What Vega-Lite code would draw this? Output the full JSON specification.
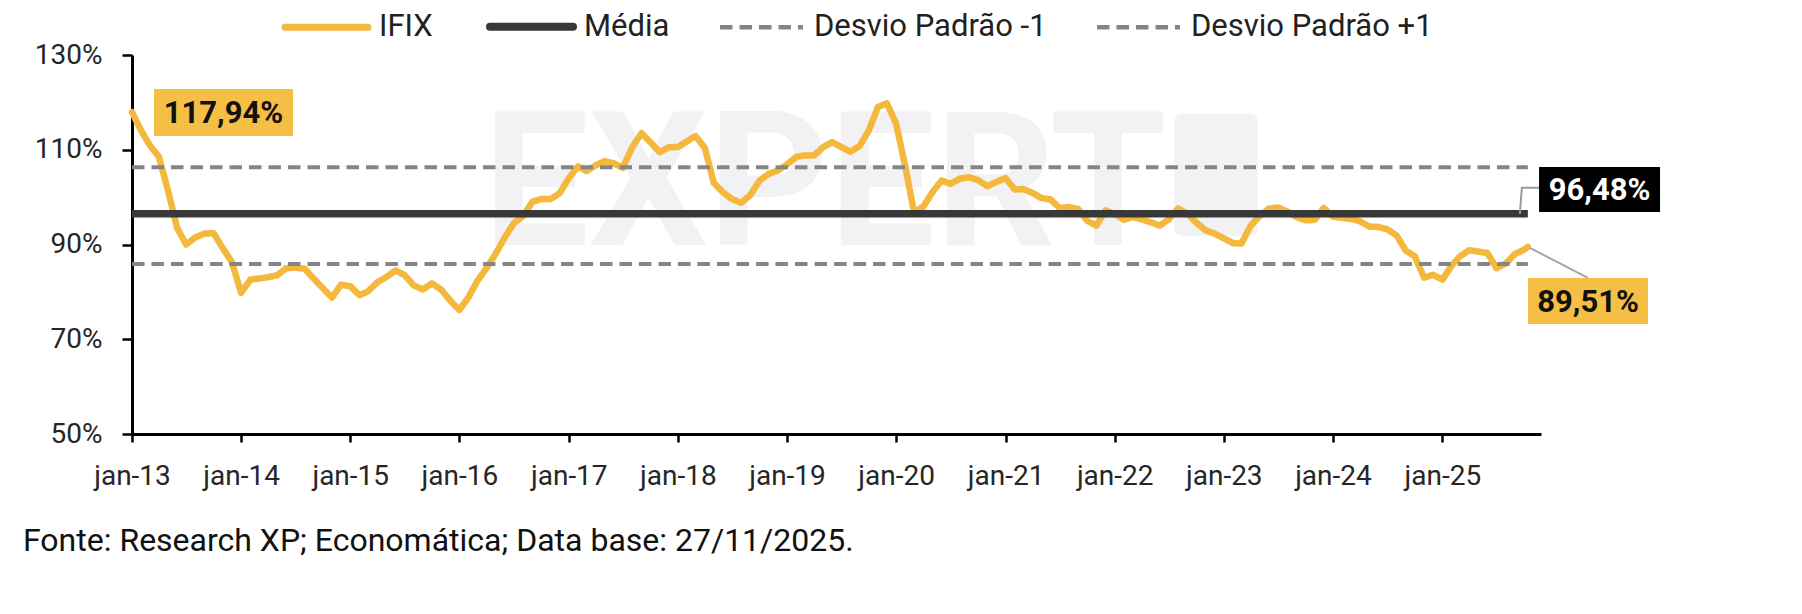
{
  "$schema": "https://vega.github.io/schema/vega-lite/v6.json",
  "width": 1409,
  "height": 379,
  "autosize": {"type": "none"},
  "padding": {"left": 132, "top": 55, "right": 261, "bottom": 180},
  "background": "#ffffff",
  "config": {
    "font": "Roboto",
    "view": {"stroke": null},
    "axis": {
      "domainColor": "#000000",
      "domainWidth": 3,
      "tickColor": "#000000",
      "tickWidth": 2.5,
      "labelFont": "Roboto",
      "labelFontSize": 28,
      "labelColor": "#262626",
      "grid": false,
      "zindex": 1,
      "labelFlush": false,
      "labelOverlap": false
    },
    "legend": {
      "orient": "none",
      "legendX": 179,
      "legendY": -44,
      "direction": "horizontal",
      "padding": 0,
      "symbolType": "stroke",
      "symbolSize": 6889,
      "labelFont": "Roboto",
      "labelFontSize": 31,
      "labelColor": "#222222",
      "labelOffset": 37,
      "labelLimit": 500,
      "columnPadding": 41
    }
  },
  "title": {
    "text": "Fonte: Research XP; Economática; Data base: 27/11/2025.",
    "orient": "bottom",
    "anchor": "start",
    "frame": "group",
    "dx": -109,
    "offset": 36,
    "font": "Roboto",
    "fontSize": 32,
    "fontWeight": "normal",
    "color": "#111111"
  },
  "datasets": {
    "ifix": [
      {"s": "IFIX", "d": "2013-01-01", "v": 117.94}, {"s": "IFIX", "d": "2013-02-01", "v": 114.0}, {"s": "IFIX", "d": "2013-03-01", "v": 111.0}, {"s": "IFIX", "d": "2013-04-01", "v": 108.5},
      {"s": "IFIX", "d": "2013-05-01", "v": 101.5}, {"s": "IFIX", "d": "2013-06-01", "v": 93.5}, {"s": "IFIX", "d": "2013-07-01", "v": 90.0}, {"s": "IFIX", "d": "2013-08-01", "v": 91.5},
      {"s": "IFIX", "d": "2013-09-01", "v": 92.3}, {"s": "IFIX", "d": "2013-10-01", "v": 92.4}, {"s": "IFIX", "d": "2013-11-01", "v": 89.2}, {"s": "IFIX", "d": "2013-12-01", "v": 86.3},
      {"s": "IFIX", "d": "2014-01-01", "v": 79.8}, {"s": "IFIX", "d": "2014-02-01", "v": 82.6}, {"s": "IFIX", "d": "2014-03-01", "v": 82.8}, {"s": "IFIX", "d": "2014-04-01", "v": 83.1},
      {"s": "IFIX", "d": "2014-05-01", "v": 83.5}, {"s": "IFIX", "d": "2014-06-01", "v": 85.0}, {"s": "IFIX", "d": "2014-07-01", "v": 85.1}, {"s": "IFIX", "d": "2014-08-01", "v": 84.9},
      {"s": "IFIX", "d": "2014-09-01", "v": 82.8}, {"s": "IFIX", "d": "2014-10-01", "v": 80.8}, {"s": "IFIX", "d": "2014-11-01", "v": 78.8}, {"s": "IFIX", "d": "2014-12-01", "v": 81.5},
      {"s": "IFIX", "d": "2015-01-01", "v": 81.2}, {"s": "IFIX", "d": "2015-02-01", "v": 79.3}, {"s": "IFIX", "d": "2015-03-01", "v": 80.1}, {"s": "IFIX", "d": "2015-04-01", "v": 82.0},
      {"s": "IFIX", "d": "2015-05-01", "v": 83.1}, {"s": "IFIX", "d": "2015-06-01", "v": 84.5}, {"s": "IFIX", "d": "2015-07-01", "v": 83.6}, {"s": "IFIX", "d": "2015-08-01", "v": 81.4},
      {"s": "IFIX", "d": "2015-09-01", "v": 80.5}, {"s": "IFIX", "d": "2015-10-01", "v": 81.8}, {"s": "IFIX", "d": "2015-11-01", "v": 80.5}, {"s": "IFIX", "d": "2015-12-01", "v": 78.2},
      {"s": "IFIX", "d": "2016-01-01", "v": 76.2}, {"s": "IFIX", "d": "2016-02-01", "v": 78.9}, {"s": "IFIX", "d": "2016-03-01", "v": 82.3}, {"s": "IFIX", "d": "2016-04-01", "v": 85.0},
      {"s": "IFIX", "d": "2016-05-01", "v": 88.0}, {"s": "IFIX", "d": "2016-06-01", "v": 91.5}, {"s": "IFIX", "d": "2016-07-01", "v": 94.5}, {"s": "IFIX", "d": "2016-08-01", "v": 96.0},
      {"s": "IFIX", "d": "2016-09-01", "v": 99.0}, {"s": "IFIX", "d": "2016-10-01", "v": 99.6}, {"s": "IFIX", "d": "2016-11-01", "v": 99.6}, {"s": "IFIX", "d": "2016-12-01", "v": 100.8},
      {"s": "IFIX", "d": "2017-01-01", "v": 104.0}, {"s": "IFIX", "d": "2017-02-01", "v": 106.5}, {"s": "IFIX", "d": "2017-03-01", "v": 105.5}, {"s": "IFIX", "d": "2017-04-01", "v": 106.7},
      {"s": "IFIX", "d": "2017-05-01", "v": 107.6}, {"s": "IFIX", "d": "2017-06-01", "v": 107.1}, {"s": "IFIX", "d": "2017-07-01", "v": 106.2}, {"s": "IFIX", "d": "2017-08-01", "v": 110.5},
      {"s": "IFIX", "d": "2017-09-01", "v": 113.5}, {"s": "IFIX", "d": "2017-10-01", "v": 111.6}, {"s": "IFIX", "d": "2017-11-01", "v": 109.5}, {"s": "IFIX", "d": "2017-12-01", "v": 110.5},
      {"s": "IFIX", "d": "2018-01-01", "v": 110.6}, {"s": "IFIX", "d": "2018-02-01", "v": 111.8}, {"s": "IFIX", "d": "2018-03-01", "v": 112.9}, {"s": "IFIX", "d": "2018-04-01", "v": 110.4},
      {"s": "IFIX", "d": "2018-05-01", "v": 103.0}, {"s": "IFIX", "d": "2018-06-01", "v": 101.0}, {"s": "IFIX", "d": "2018-07-01", "v": 99.6}, {"s": "IFIX", "d": "2018-08-01", "v": 98.8},
      {"s": "IFIX", "d": "2018-09-01", "v": 100.5}, {"s": "IFIX", "d": "2018-10-01", "v": 103.5}, {"s": "IFIX", "d": "2018-11-01", "v": 104.9}, {"s": "IFIX", "d": "2018-12-01", "v": 105.6},
      {"s": "IFIX", "d": "2019-01-01", "v": 106.9}, {"s": "IFIX", "d": "2019-02-01", "v": 108.5}, {"s": "IFIX", "d": "2019-03-01", "v": 108.8}, {"s": "IFIX", "d": "2019-04-01", "v": 108.8},
      {"s": "IFIX", "d": "2019-05-01", "v": 110.5}, {"s": "IFIX", "d": "2019-06-01", "v": 111.6}, {"s": "IFIX", "d": "2019-07-01", "v": 110.6}, {"s": "IFIX", "d": "2019-08-01", "v": 109.6},
      {"s": "IFIX", "d": "2019-09-01", "v": 110.8}, {"s": "IFIX", "d": "2019-10-01", "v": 114.0}, {"s": "IFIX", "d": "2019-11-01", "v": 119.0}, {"s": "IFIX", "d": "2019-12-01", "v": 119.8},
      {"s": "IFIX", "d": "2020-01-01", "v": 115.5}, {"s": "IFIX", "d": "2020-02-01", "v": 106.3}, {"s": "IFIX", "d": "2020-03-01", "v": 96.8}, {"s": "IFIX", "d": "2020-04-01", "v": 98.0},
      {"s": "IFIX", "d": "2020-05-01", "v": 101.0}, {"s": "IFIX", "d": "2020-06-01", "v": 103.5}, {"s": "IFIX", "d": "2020-07-01", "v": 102.8}, {"s": "IFIX", "d": "2020-08-01", "v": 103.9},
      {"s": "IFIX", "d": "2020-09-01", "v": 104.2}, {"s": "IFIX", "d": "2020-10-01", "v": 103.6}, {"s": "IFIX", "d": "2020-11-01", "v": 102.3}, {"s": "IFIX", "d": "2020-12-01", "v": 103.2},
      {"s": "IFIX", "d": "2021-01-01", "v": 104.0}, {"s": "IFIX", "d": "2021-02-01", "v": 101.6}, {"s": "IFIX", "d": "2021-03-01", "v": 101.7}, {"s": "IFIX", "d": "2021-04-01", "v": 100.9},
      {"s": "IFIX", "d": "2021-05-01", "v": 99.8}, {"s": "IFIX", "d": "2021-06-01", "v": 99.5}, {"s": "IFIX", "d": "2021-07-01", "v": 97.7}, {"s": "IFIX", "d": "2021-08-01", "v": 97.9},
      {"s": "IFIX", "d": "2021-09-01", "v": 97.5}, {"s": "IFIX", "d": "2021-10-01", "v": 95.0}, {"s": "IFIX", "d": "2021-11-01", "v": 94.0}, {"s": "IFIX", "d": "2021-12-01", "v": 97.2},
      {"s": "IFIX", "d": "2022-01-01", "v": 96.5}, {"s": "IFIX", "d": "2022-02-01", "v": 95.2}, {"s": "IFIX", "d": "2022-03-01", "v": 95.8}, {"s": "IFIX", "d": "2022-04-01", "v": 95.3},
      {"s": "IFIX", "d": "2022-05-01", "v": 94.7}, {"s": "IFIX", "d": "2022-06-01", "v": 94.0}, {"s": "IFIX", "d": "2022-07-01", "v": 95.3}, {"s": "IFIX", "d": "2022-08-01", "v": 97.6},
      {"s": "IFIX", "d": "2022-09-01", "v": 96.5}, {"s": "IFIX", "d": "2022-10-01", "v": 94.6}, {"s": "IFIX", "d": "2022-11-01", "v": 93.0}, {"s": "IFIX", "d": "2022-12-01", "v": 92.3},
      {"s": "IFIX", "d": "2023-01-01", "v": 91.3}, {"s": "IFIX", "d": "2023-02-01", "v": 90.3}, {"s": "IFIX", "d": "2023-03-01", "v": 90.2}, {"s": "IFIX", "d": "2023-04-01", "v": 94.0},
      {"s": "IFIX", "d": "2023-05-01", "v": 96.0}, {"s": "IFIX", "d": "2023-06-01", "v": 97.6}, {"s": "IFIX", "d": "2023-07-01", "v": 97.8}, {"s": "IFIX", "d": "2023-08-01", "v": 97.0},
      {"s": "IFIX", "d": "2023-09-01", "v": 95.8}, {"s": "IFIX", "d": "2023-10-01", "v": 95.1}, {"s": "IFIX", "d": "2023-11-01", "v": 95.2}, {"s": "IFIX", "d": "2023-12-01", "v": 97.7},
      {"s": "IFIX", "d": "2024-01-01", "v": 95.9}, {"s": "IFIX", "d": "2024-02-01", "v": 95.6}, {"s": "IFIX", "d": "2024-03-01", "v": 95.4}, {"s": "IFIX", "d": "2024-04-01", "v": 94.9},
      {"s": "IFIX", "d": "2024-05-01", "v": 93.8}, {"s": "IFIX", "d": "2024-06-01", "v": 93.7}, {"s": "IFIX", "d": "2024-07-01", "v": 93.2}, {"s": "IFIX", "d": "2024-08-01", "v": 91.9},
      {"s": "IFIX", "d": "2024-09-01", "v": 88.7}, {"s": "IFIX", "d": "2024-10-01", "v": 87.5}, {"s": "IFIX", "d": "2024-11-01", "v": 83.0}, {"s": "IFIX", "d": "2024-12-01", "v": 83.6},
      {"s": "IFIX", "d": "2025-01-01", "v": 82.6}, {"s": "IFIX", "d": "2025-02-01", "v": 85.5}, {"s": "IFIX", "d": "2025-03-01", "v": 87.5}, {"s": "IFIX", "d": "2025-04-01", "v": 88.8},
      {"s": "IFIX", "d": "2025-05-01", "v": 88.5}, {"s": "IFIX", "d": "2025-06-01", "v": 88.2}, {"s": "IFIX", "d": "2025-07-01", "v": 85.0}, {"s": "IFIX", "d": "2025-08-01", "v": 86.0},
      {"s": "IFIX", "d": "2025-09-01", "v": 88.0}, {"s": "IFIX", "d": "2025-10-01", "v": 88.9}, {"s": "IFIX", "d": "2025-10-14", "v": 89.51}
    ],
    "levels": [
      {"s": "Média", "v": 96.48},
      {"s": "Desvio Padrão -1", "v": 85.9},
      {"s": "Desvio Padrão +1", "v": 106.3}
    ],
    "notes": [
      {"d": "2013-01-01", "v": 117.94, "label": "117,94%", "k": "first"},
      {"d": "2025-10-14", "v": 96.48, "label": "96,48%", "k": "mean"},
      {"d": "2025-10-14", "v": 89.51, "label": "89,51%", "k": "last"}
    ],
    "watermark": [
      {"label": "EXPERT"}
    ]
  },
  "layer": [
    {
      "data": {"name": "watermark"},
      "mark": {"type": "rect", "color": "#f2f2f4", "cornerRadius": 8},
      "encoding": {
        "x": {"datum": {"year": 2022, "month": 7, "date": 19, "utc": true}, "type": "temporal", "scale": {"type": "utc", "domain": [{"year": 2013, "month": 1, "date": 1, "utc": true}, {"year": 2025, "month": 11, "date": 27, "utc": true}]}},
        "x2": {"datum": {"year": 2023, "month": 4, "date": 25, "utc": true}},
        "y": {"datum": 117.6, "type": "quantitative", "scale": {"domain": [50, 130], "zero": false}},
        "y2": {"datum": 91.8}
      }
    },
    {
      "data": {"name": "watermark"},
      "mark": {"type": "text", "font": "Roboto", "fontSize": 188, "fontWeight": "bold", "color": "#f2f2f4", "align": "center", "baseline": "middle", "dy": 8},
      "encoding": {
        "x": {"datum": {"year": 2019, "month": 5, "date": 7, "utc": true}, "type": "temporal"},
        "y": {"datum": 103.5, "type": "quantitative"},
        "text": {"field": "label"}
      }
    },
    {
      "data": {"name": "ifix"},
      "mark": {"type": "line", "strokeJoin": "round", "strokeCap": "round", "strokeWidth": 6.5},
      "encoding": {
        "x": {
          "field": "d", "type": "temporal", "title": null,
          "scale": {"type": "utc", "domain": [{"year": 2013, "month": 1, "date": 1, "utc": true}, {"year": 2025, "month": 11, "date": 27, "utc": true}]},
          "axis": {
            "values": [
              {"year": 2013, "month": 1, "date": 1, "utc": true}, {"year": 2014, "month": 1, "date": 1, "utc": true},
              {"year": 2015, "month": 1, "date": 1, "utc": true}, {"year": 2016, "month": 1, "date": 1, "utc": true},
              {"year": 2017, "month": 1, "date": 1, "utc": true}, {"year": 2018, "month": 1, "date": 1, "utc": true},
              {"year": 2019, "month": 1, "date": 1, "utc": true}, {"year": 2020, "month": 1, "date": 1, "utc": true},
              {"year": 2021, "month": 1, "date": 1, "utc": true}, {"year": 2022, "month": 1, "date": 1, "utc": true},
              {"year": 2023, "month": 1, "date": 1, "utc": true}, {"year": 2024, "month": 1, "date": 1, "utc": true},
              {"year": 2025, "month": 1, "date": 1, "utc": true}
            ],
            "labelExpr": "'jan-' + utcFormat(datum.value, '%y')",
            "tickSize": 8,
            "labelPadding": 20
          }
        },
        "y": {
          "field": "v", "type": "quantitative", "title": null,
          "scale": {"domain": [50, 130], "zero": false},
          "axis": {"values": [50, 70, 90, 110, 130], "labelExpr": "datum.value + '%'", "tickSize": 10, "labelPadding": 20}
        },
        "color": {
          "field": "s", "type": "nominal", "title": null,
          "scale": {"domain": ["IFIX", "Média", "Desvio Padrão -1", "Desvio Padrão +1"], "range": ["#F4B83D", "#383838", "#858585", "#858585"]},
          "legend": {
            "title": null,
            "encode": {
              "symbols": {
                "update": {
                  "strokeWidth": {"signal": "datum.value === 'IFIX' ? 7 : datum.value === 'Média' ? 8 : 4.5"},
                  "strokeCap": {"signal": "datum.value === 'IFIX' || datum.value === 'Média' ? 'round' : 'butt'"}
                }
              }
            }
          }
        },
        "strokeDash": {
          "field": "s", "type": "nominal", "title": null,
          "scale": {"domain": ["IFIX", "Média", "Desvio Padrão -1", "Desvio Padrão +1"], "range": [[1, 0], [1, 0], [12.5, 7], [12.5, 7]]},
          "legend": {"title": null}
        }
      }
    },
    {
      "data": {"name": "levels"},
      "transform": [{"filter": "datum.s === 'Média'"}],
      "mark": {"type": "rule", "strokeWidth": 7.5},
      "encoding": {
        "x": {"datum": {"year": 2013, "month": 1, "date": 1, "utc": true}, "type": "temporal"},
        "x2": {"datum": {"year": 2025, "month": 10, "date": 14, "utc": true}},
        "y": {"field": "v", "type": "quantitative"},
        "color": {"field": "s", "type": "nominal", "title": null},
        "strokeDash": {"field": "s", "type": "nominal", "title": null}
      }
    },
    {
      "data": {"name": "levels"},
      "transform": [{"filter": "datum.s !== 'Média'"}],
      "mark": {"type": "rule", "strokeWidth": 4},
      "encoding": {
        "x": {"datum": {"year": 2013, "month": 1, "date": 1, "utc": true}, "type": "temporal"},
        "x2": {"datum": {"year": 2025, "month": 10, "date": 14, "utc": true}},
        "y": {"field": "v", "type": "quantitative"},
        "color": {"field": "s", "type": "nominal", "title": null},
        "strokeDash": {"field": "s", "type": "nominal", "title": null}
      }
    },
    {
      "data": {"name": "notes"},
      "transform": [{"filter": "datum.k === 'mean'"}],
      "mark": {"type": "point", "shape": "M-8,0L-6,-26L12,-26", "size": 4, "filled": false, "stroke": "#9a9a9a", "strokeWidth": 2, "opacity": 1},
      "encoding": {"x": {"field": "d", "type": "temporal"}, "y": {"field": "v", "type": "quantitative"}}
    },
    {
      "data": {"name": "notes"},
      "transform": [{"filter": "datum.k === 'last'"}],
      "mark": {"type": "point", "shape": "M2,1L60,31", "size": 4, "filled": false, "stroke": "#a4a6ae", "strokeWidth": 2, "opacity": 1},
      "encoding": {"x": {"field": "d", "type": "temporal"}, "y": {"field": "v", "type": "quantitative"}}
    },
    {
      "data": {"name": "notes"},
      "transform": [{"filter": "datum.k === 'first'"}],
      "mark": {"type": "point", "shape": "M-69.5,-23.5H69.5V23.5H-69.5Z", "size": 4, "filled": true, "fill": "#F5BE44", "strokeWidth": 0, "opacity": 1, "xOffset": 91.5, "yOffset": 0.4},
      "encoding": {"x": {"field": "d", "type": "temporal"}, "y": {"field": "v", "type": "quantitative"}}
    },
    {
      "data": {"name": "notes"},
      "transform": [{"filter": "datum.k === 'mean'"}],
      "mark": {"type": "point", "shape": "M-60.5,-22.5H60.5V22.5H-60.5Z", "size": 4, "filled": true, "fill": "#000000", "strokeWidth": 0, "opacity": 1, "xOffset": 71.7, "yOffset": -24.3},
      "encoding": {"x": {"field": "d", "type": "temporal"}, "y": {"field": "v", "type": "quantitative"}}
    },
    {
      "data": {"name": "notes"},
      "transform": [{"filter": "datum.k === 'last'"}],
      "mark": {"type": "point", "shape": "M-60,-23H60V23H-60Z", "size": 4, "filled": true, "fill": "#F5BE44", "strokeWidth": 0, "opacity": 1, "xOffset": 60.2, "yOffset": 54.2},
      "encoding": {"x": {"field": "d", "type": "temporal"}, "y": {"field": "v", "type": "quantitative"}}
    },
    {
      "data": {"name": "notes"},
      "transform": [{"filter": "datum.k === 'first'"}],
      "mark": {"type": "text", "font": "Roboto", "fontSize": 31, "fontWeight": "bold", "color": "#111111", "align": "center", "baseline": "middle", "dx": 91.5, "dy": 2},
      "encoding": {"x": {"field": "d", "type": "temporal"}, "y": {"field": "v", "type": "quantitative"}, "text": {"field": "label"}}
    },
    {
      "data": {"name": "notes"},
      "transform": [{"filter": "datum.k === 'mean'"}],
      "mark": {"type": "text", "font": "Roboto", "fontSize": 31, "fontWeight": "bold", "color": "#ffffff", "align": "center", "baseline": "middle", "dx": 71.7, "dy": -22.5},
      "encoding": {"x": {"field": "d", "type": "temporal"}, "y": {"field": "v", "type": "quantitative"}, "text": {"field": "label"}}
    },
    {
      "data": {"name": "notes"},
      "transform": [{"filter": "datum.k === 'last'"}],
      "mark": {"type": "text", "font": "Roboto", "fontSize": 31, "fontWeight": "bold", "color": "#111111", "align": "center", "baseline": "middle", "dx": 60.2, "dy": 56},
      "encoding": {"x": {"field": "d", "type": "temporal"}, "y": {"field": "v", "type": "quantitative"}, "text": {"field": "label"}}
    }
  ]
}
